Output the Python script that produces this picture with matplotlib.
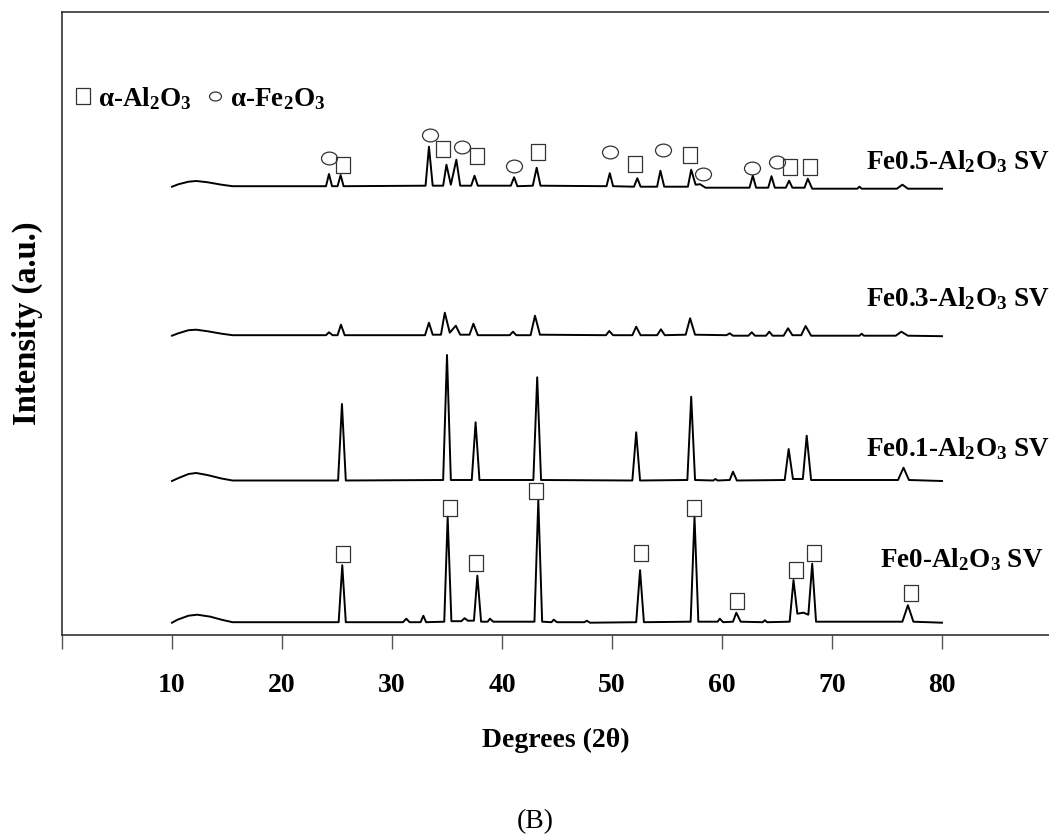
import matplotlib.pyplot as plt
from matplotlib.path import Path
from matplotlib.transforms import Affine2D
from matplotlib.lines import Line2D

plt.rcParams['font.family'] = ['Liberation Serif', 'DejaVu Serif']
plt.rcParams['font.weight'] = 'bold'
plt.rcParams['mathtext.default'] = 'regular'

# XRD patterns (2theta in degrees, intensity in a.u.)
fe0_2theta = [10.0, 10.5, 11.5, 12.3, 13.5, 14.5, 15.5, 25.15, 25.48, 25.8, 31.0, 31.3, 31.6,
              32.6, 32.85, 33.1, 34.75, 35.06, 35.4, 36.3, 36.6, 36.9, 37.45, 37.76, 38.1,
              38.7, 38.9, 39.2, 42.95, 43.3, 43.65, 44.5, 44.7, 45.0, 47.5, 47.7, 48.0,
              52.2, 52.55, 52.9, 57.15, 57.5, 57.85, 59.6, 59.8, 60.1, 61.0, 61.3, 61.7,
              63.7, 63.9, 64.1, 66.15, 66.5, 66.85, 67.4, 67.85, 68.2, 68.55, 76.4, 76.9,
              77.4, 80.0]
fe0_counts = [0, 3, 7, 8, 6, 3, 0.5, 0.5, 57.5, 0.5, 0.5, 4, 0.5,
              0.5, 7, 0.5, 1, 106, 1.5, 1.5, 4.5, 2, 2, 47, 1,
              1, 4, 1, 1, 122.5, 1, 0.5, 3, 0.5, 0.5, 2, 0,
              0.5, 52.5, 0.5, 1, 106, 1, 1, 4, 0.5, 1, 10, 1,
              0.5, 2.5, 0.5, 1, 42.7, 9, 10, 8, 59, 1, 1, 17.5,
              1, 0]

fe01_2theta = [10.0, 10.6, 11.5, 12.2, 13.2, 14.5, 15.5, 25.1, 25.45, 25.8, 34.65, 35.0, 35.35,
               37.25, 37.6, 37.95, 42.85, 43.2, 43.55, 51.85, 52.2, 52.55, 56.85, 57.2, 57.55,
               59.2, 59.4, 59.6, 60.7, 61.0, 61.35, 65.7, 66.06, 66.45, 67.35, 67.7, 68.1,
               76.0, 76.5, 77.0, 80.0]
fe01_counts = [0, 3, 7, 8, 6, 2.5, 0.5, 0.5, 77, 0.5, 1, 126, 1,
               1, 58.7, 1, 1, 103.7, 1, 0.5, 48.7, 0.5, 1, 84.3, 1,
               0.5, 2, 0.5, 1, 9.3, 0.5, 1, 32, 2, 2, 45.3, 1,
               1, 13.3, 1, 0]

fe03_2theta = [10.0, 10.6, 11.5, 12.2, 13.2, 14.5, 15.5, 24.0, 24.27, 24.6, 25.05, 25.36, 25.7,
               33.0, 33.36, 33.7, 34.45, 34.8, 35.25, 35.8, 36.2, 37.05, 37.4, 37.8, 40.7,
               41.0, 41.3, 42.6, 43.0, 43.45, 49.45, 49.75, 50.1, 51.85, 52.2, 52.6, 54.1,
               54.45, 54.8, 56.7, 57.1, 57.55, 60.4, 60.7, 61.0, 62.4, 62.7, 63.0, 64.0,
               64.3, 64.6, 65.6, 66.0, 66.4, 67.2, 67.6, 68.1, 72.5, 72.7, 72.9, 75.8,
               76.3, 76.9, 80.0]
fe03_counts = [0, 2.5, 5.5, 6, 4.5, 2, 0.5, 0.5, 3.4, 0.5, 0.5, 11, 0.5,
               0.5, 13, 1, 1, 23, 3, 10, 1, 1, 12, 0.5, 0.5,
               4, 0.5, 0.5, 20, 1, 0.5, 4.7, 0.5, 0.5, 9, 0.5, 0.5,
               6.4, 0.5, 1, 17.4, 1, 0.5, 2.4, 0, 0, 3.4, 0, 0,
               4, 0, 0, 7.4, 0.5, 0.5, 9.7, 0, 0, 2, 0, 0,
               4, 0, -0.5]

fe05_2theta = [10.0, 10.6, 11.5, 12.2, 13.2, 14.5, 15.5, 24.0, 24.27, 24.55, 25.05, 25.33, 25.6,
               33.05, 33.36, 33.7, 34.65, 34.95, 35.35, 35.85, 36.2, 37.2, 37.5, 37.8, 40.8,
               41.1, 41.4, 42.8, 43.15, 43.5, 49.5, 49.8, 50.1, 52.0, 52.3, 52.6, 54.1,
               54.4, 54.75, 56.9, 57.2, 57.6, 58.0, 58.5, 62.5, 62.8, 63.1, 64.2, 64.5,
               64.8, 65.8, 66.1, 66.4, 67.5, 67.8, 68.2, 72.3, 72.5, 72.7, 75.9, 76.4,
               76.9, 80.0]
fe05_counts = [0, 2.5, 5, 5.7, 4.5, 2, 0.5, 0.5, 12.7, 0.5, 0.5, 11.7, 0.5,
               1, 40, 1, 1, 22, 2, 27, 1, 1, 11, 1, 1,
               9.5, 0.5, 1, 19, 1, 0.5, 13.5, 0.5, 0, 8.5, 0, 0,
               16, 0, 0, 17, 2, 2.5, -1, -1, 11, -1, -1, 10.5,
               -1, -1, 6, -1, -1, 8, -2, -2, 0, -2, -2, 2,
               -2, -2]

series_names = ['Fe0-Al$_2$O$_3$ SV', 'Fe0.1-Al$_2$O$_3$ SV',
                'Fe0.3-Al$_2$O$_3$ SV', 'Fe0.5-Al$_2$O$_3$ SV']
series_offsets = [12.3, 154, 299.3, 448.3]

# phase marks (alpha-Al2O3 squares, alpha-Fe2O3 circles)
fe0_al_x = [25.57, 35.25, 37.64, 43.09, 52.64, 57.48, 61.34, 66.73, 68.36, 77.18]
fe0_al_y = [81, 127, 71.7, 143.7, 81.7, 127.3, 34.3, 65, 81.7, 42.3]
fe05_al_x = [25.57, 34.68, 37.69, 43.23, 52.11, 57.08, 66.18, 68.0]
fe05_al_y = [469.7, 485.6, 479.4, 482.7, 471, 480.4, 468.2, 468.2]
fe05_fe_x = [24.27, 33.44, 36.36, 41.08, 49.81, 54.64, 58.27, 62.73, 64.98]
fe05_fe_y = [477.3, 500.4, 488.5, 469, 482.7, 484.6, 460.7, 467, 473.1]

xticks = [0, 10, 20, 30, 40, 50, 60, 70, 80]
xticklabels = ['', '10', '20', '30', '40', '50', '60', '70', '80']

sq = Path([(-0.44, -0.5), (0.44, -0.5), (0.44, 0.5), (-0.44, 0.5), (-0.44, -0.5)], closed=True)
ell = Affine2D().scale(1, 0.8).transform_path(Path.unit_circle())
small_ell = Affine2D().scale(1, 0.75).transform_path(Path.unit_circle())

fig = plt.figure(figsize=(10.49, 8.36), dpi=100)
ax = fig.add_axes([62 / 1049, 201 / 836, 987 / 1049, 623 / 836])

patterns = [(fe0_2theta, fe0_counts), (fe01_2theta, fe01_counts),
            (fe03_2theta, fe03_counts), (fe05_2theta, fe05_counts)]
for (tt, cc), off in zip(patterns, series_offsets):
    ax.plot(tt, [c + off for c in cc], color='black', lw=1.4)

label_x = [74.4, 73.1, 73.1, 73.1]
label_y = [68, 179.3, 329, 466]
for name, lx, ly in zip(series_names, label_x, label_y):
    ax.text(lx, ly, name, fontsize=19.5, fontweight='bold', ha='left', va='baseline')

mk = dict(ls='none', mfc='none', mec='#333333', mew=0.9)
ax.plot(fe0_al_x, fe0_al_y, marker=sq, ms=12.2, **mk)
ax.plot(fe05_al_x, fe05_al_y, marker=sq, ms=12.2, **mk)
ax.plot(fe05_fe_x, fe05_fe_y, marker=ell, ms=11.5, **mk)

handles = [Line2D([], [], marker=sq, ms=11.5, **mk),
           Line2D([], [], marker=small_ell, ms=8.6, **mk)]
ax.legend(handles, ['α-Al$_2$O$_3$', 'α-Fe$_2$O$_3$'], loc='upper left',
          bbox_to_anchor=(0.012, 0.883), ncol=2, frameon=False, handlelength=0.7,
          handletextpad=0.2, columnspacing=0.5, borderpad=0, borderaxespad=0,
          prop=dict(size=19.5, weight='bold'))

ax.set_xlim(0, 987 / 11)
ax.set_ylim(0, 623)
ax.set_xticks(xticks)
ax.set_xticklabels(xticklabels)
ax.set_yticks([])
ax.tick_params(axis='x', direction='out', length=10, width=1, color='#555555',
               pad=17, labelsize=20)
for s in ['left', 'top', 'bottom']:
    ax.spines[s].set_linewidth(1.2)
    ax.spines[s].set_color('#333333')
ax.spines['right'].set_visible(False)

ax.set_xlabel('Degrees (2θ)', fontsize=20, fontweight='bold', va='top')
ax.xaxis.set_label_coords(0.5, -0.149)
ax.set_ylabel('Intensity (a.u.)', fontsize=23.5, fontweight='bold')
ax.yaxis.set_label_coords(-0.019, 0.5)

fig.text(535 / 1049, 1 - 822 / 836, '(B)', ha='center', va='center',
         fontsize=20, fontweight='normal')

fig.savefig('out.png', dpi=100)
